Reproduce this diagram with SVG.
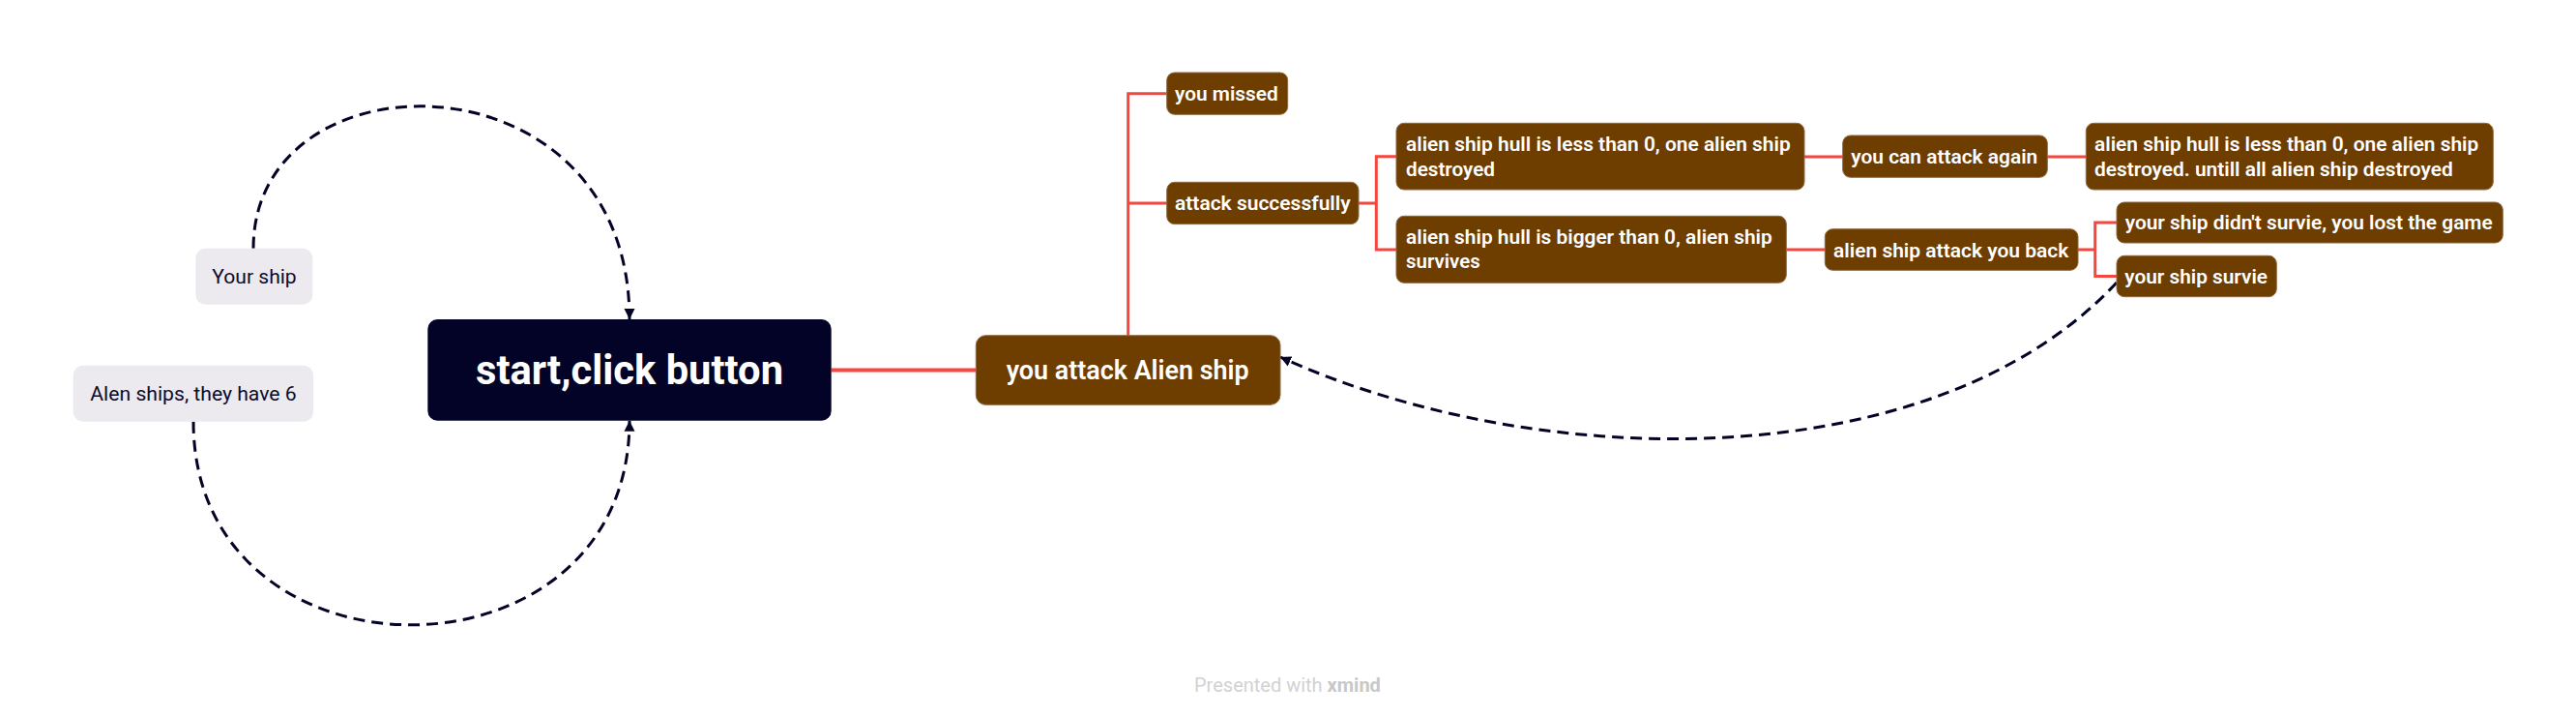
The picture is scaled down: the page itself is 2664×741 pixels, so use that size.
<svg xmlns="http://www.w3.org/2000/svg" width="2664" height="741" viewBox="0 0 2664 741">
<style>
  .bg { fill: #ffffff; }
  .light rect { fill: #ECEAEF; }
  .light text { font-family: Roboto, "Liberation Sans", sans-serif; font-size: 21px; fill: #0B0B2E; }
  .brown rect { fill: #6E3D00; stroke: #8E6A45; stroke-width: 1; }
  .brown text { font-family: Roboto, "Liberation Sans", sans-serif; font-size: 21px; font-weight: 600; fill: #ffffff; }
  .root rect { fill: #020327; }
  .root text { font-family: Roboto, "Liberation Sans", sans-serif; font-size: 42px; font-weight: 700; fill: #ffffff; }
  .branch { fill: none; stroke: #F5473F; stroke-width: 3; }
  .trunk { fill: none; stroke: #F5473F; stroke-width: 4; }
  .rel { fill: none; stroke: #020327; stroke-width: 3; stroke-dasharray: 12 7; }
  .footer { font-family: Roboto, "Liberation Sans", sans-serif; font-size: 20px; fill: #D2D2D2; }
</style>
<defs>
  <marker id="arrow" viewBox="0 0 10 10" refX="10" refY="5" markerUnits="userSpaceOnUse" markerWidth="11" markerHeight="12" orient="auto">
    <path d="M0,0 L10,5 L0,10 z" fill="#020327"/>
  </marker>
</defs>
<rect class="bg" x="0" y="0" width="2664" height="741"/>

<g id="connectors">
  <path class="trunk" d="M859.7 382.5 H1009.3"/>
  <path class="branch" d="M1166.7 346.7 V96.7 H1206.7 M1166.7 210 H1206.7"/>
  <path class="branch" d="M1405 210 H1423.3 M1444 161.7 H1423.3 V258 H1444"/>
  <path class="branch" d="M1866 162 H1905.7"/>
  <path class="branch" d="M2117.3 162 H2157.3"/>
  <path class="branch" d="M1847.3 258 H1887.3"/>
  <path class="branch" d="M2149 258 H2166.7 M2189 230 H2166.7 V285.5 H2189"/>
  <path class="rel" d="M262 256.7 C262 50 651 50 651 330" marker-end="url(#arrow)"/>
  <path class="rel" d="M200 435.7 C200 716 651 716 651 434.7" marker-end="url(#arrow)"/>
  <path class="rel" d="M2189 292 C2000 495 1590 490 1324 369" marker-end="url(#arrow)"/>
</g>

<g id="node-your-ship" class="light">
  <rect x="202.3" y="256.7" width="121" height="58" rx="10"/>
  <text x="219.3" y="293.3" textLength="87.4" lengthAdjust="spacingAndGlyphs">Your ship</text>
</g>
<g id="node-alen-ships" class="light">
  <rect x="75.7" y="377.7" width="248.3" height="58" rx="10"/>
  <text x="93.3" y="414" textLength="213.4" lengthAdjust="spacingAndGlyphs">Alen ships, they have 6</text>
</g>
<g id="node-start" class="root">
  <rect x="442.3" y="330" width="417.4" height="104.7" rx="10"/>
  <text x="651" y="397" text-anchor="middle" textLength="318" lengthAdjust="spacingAndGlyphs">start,click button</text>
</g>
<g id="node-attack" class="brown">
  <rect x="1009.3" y="346.7" width="314.7" height="71.6" rx="10"/>
  <text x="1040.7" y="391.7" style="font-size:28px" textLength="251" lengthAdjust="spacingAndGlyphs">you attack Alien ship</text>
</g>
<g id="node-missed" class="brown">
  <rect x="1206.7" y="75" width="125" height="43.3" rx="8"/>
  <text x="1215" y="104" textLength="106.7" lengthAdjust="spacingAndGlyphs">you missed</text>
</g>
<g id="node-success" class="brown">
  <rect x="1206.7" y="188.3" width="198.3" height="43.3" rx="8"/>
  <text x="1215" y="216.7" textLength="181.7" lengthAdjust="spacingAndGlyphs">attack successfully</text>
</g>
<g id="node-hull-less" class="brown">
  <rect x="1444" y="127.3" width="422" height="68.7" rx="8"/>
  <text x="1454" y="155.7" textLength="397.7" lengthAdjust="spacingAndGlyphs">alien ship hull is less than 0, one alien ship</text>
  <text x="1454" y="181.7" textLength="92" lengthAdjust="spacingAndGlyphs">destroyed</text>
</g>
<g id="node-hull-bigger" class="brown">
  <rect x="1444" y="223.3" width="403.3" height="69" rx="8"/>
  <text x="1454" y="251.7" textLength="378.7" lengthAdjust="spacingAndGlyphs">alien ship hull is bigger than 0, alien ship</text>
  <text x="1454" y="277.3" textLength="76.7" lengthAdjust="spacingAndGlyphs">survives</text>
</g>
<g id="node-attack-again" class="brown">
  <rect x="1905.7" y="140" width="211.6" height="43.3" rx="8"/>
  <text x="1914.3" y="169.3" textLength="193" lengthAdjust="spacingAndGlyphs">you can attack again</text>
</g>
<g id="node-all-destroyed" class="brown">
  <rect x="2157.3" y="127.3" width="421" height="68.7" rx="8"/>
  <text x="2166" y="155.7" textLength="397.3" lengthAdjust="spacingAndGlyphs">alien ship hull is less than 0, one alien ship</text>
  <text x="2166" y="181.7" textLength="370.7" lengthAdjust="spacingAndGlyphs">destroyed. untill all alien ship destroyed</text>
</g>
<g id="node-attack-back" class="brown">
  <rect x="1887.3" y="236.7" width="261.7" height="42.6" rx="8"/>
  <text x="1896" y="265.7" textLength="243.3" lengthAdjust="spacingAndGlyphs">alien ship attack you back</text>
</g>
<g id="node-lost" class="brown">
  <rect x="2189" y="209" width="399.3" height="42" rx="8"/>
  <text x="2197.7" y="236.7" textLength="380" lengthAdjust="spacingAndGlyphs">your ship didn't survie, you lost the game</text>
</g>
<g id="node-survie" class="brown">
  <rect x="2189" y="264.3" width="165.3" height="42.4" rx="8"/>
  <text x="2197.3" y="293.3" textLength="147.7" lengthAdjust="spacingAndGlyphs">your ship survie</text>
</g>

<text class="footer" x="1235" y="715">Presented with <tspan font-weight="700" fill="#C8C8C8">xmind</tspan></text>
</svg>
